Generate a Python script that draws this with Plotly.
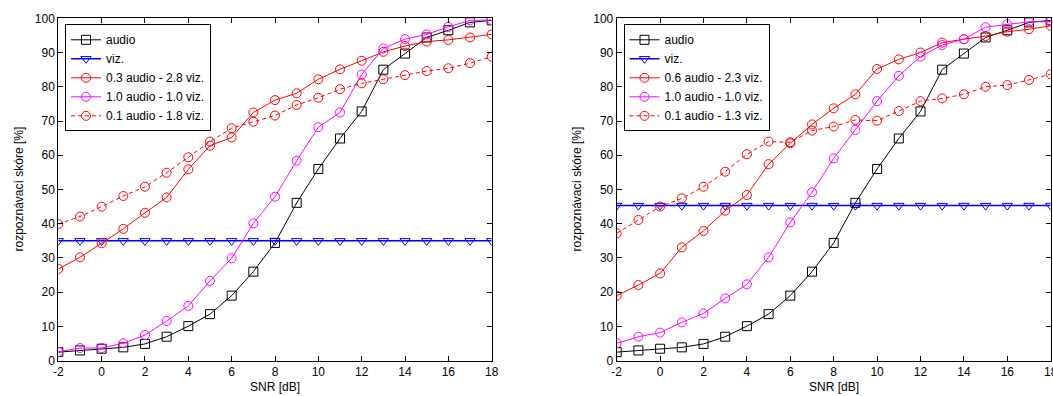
import plotly.graph_objects as go

snr = list(range(-2, 19))

audio = [2.5, 3.0, 3.5, 3.9, 4.9, 7.0, 10.1, 13.6, 19.0, 26.0, 34.4, 46.1, 56.0, 64.9, 72.8, 85.0, 89.7, 94.4, 96.5, 98.8, 99.4]

viz_left = [35.0] * 21
left_a = [26.8, 30.2, 34.3, 38.5, 43.2, 47.7, 55.9, 62.8, 65.2, 72.5, 76.1, 78.1, 82.2, 85.1, 87.6, 90.2, 91.9, 93.2, 93.7, 94.4, 95.3]
left_b = [2.6, 3.7, 3.7, 5.1, 7.5, 11.6, 16.0, 23.3, 29.9, 40.1, 47.9, 58.4, 68.2, 72.5, 83.6, 91.2, 93.9, 95.3, 97.5, 99.4, 99.5]
left_c = [39.9, 42.1, 45.0, 48.1, 50.8, 54.9, 59.4, 64.0, 67.9, 69.8, 71.6, 74.7, 76.8, 79.3, 81.0, 82.2, 83.4, 84.6, 85.4, 86.9, 88.8]

viz_right = [45.3] * 21
right_a = [19.0, 22.1, 25.5, 33.1, 37.9, 43.8, 48.4, 57.4, 63.5, 69.0, 73.7, 77.8, 85.2, 88.0, 90.0, 92.9, 93.9, 94.8, 96.1, 96.8, 97.8]
right_b = [5.1, 7.0, 8.2, 11.2, 13.8, 18.2, 22.3, 30.2, 40.4, 49.2, 59.1, 67.4, 75.8, 83.2, 88.8, 92.2, 93.9, 97.4, 98.3, 99.0, 99.0]
right_c = [37.2, 41.1, 45.0, 47.4, 50.8, 55.2, 60.3, 64.0, 63.8, 67.2, 68.4, 70.3, 70.1, 72.9, 75.8, 76.6, 77.8, 80.0, 80.5, 82.0, 83.7]

left_names = ["audio", "viz.", "0.3 audio - 2.8 viz.", "1.0 audio - 1.0 viz.", "0.1 audio - 1.8 viz."]
right_names = ["audio", "viz.", "0.6 audio - 2.3 viz.", "1.0 audio - 1.0 viz.", "0.1 audio - 1.3 viz."]

xticks = list(range(-2, 19, 2))
xtick_text = ["-2", "0", "2", "4", "6", "8", "10", "12", "14", "16", "18"]
yticks = list(range(0, 101, 10))

W, H = 1053, 396
FONT = "Liberation Sans, Arial, sans-serif"

fig = go.Figure()

styles = [
    dict(color="black", symbol="square-open", dash="solid", size=9, width=1),
    dict(color="blue", symbol="triangle-down-open", dash="solid", size=9, width=1.5),
    dict(color="red", symbol="circle-open", dash="solid", size=9, width=1),
    dict(color="#ff00ff", symbol="circle-open", dash="solid", size=9, width=1),
    dict(color="red", symbol="circle-open", dash="4px,3px", size=9, width=1),
]

def add_set(series, names, xa, ya, leg):
    for s, n, st in zip(series, names, styles):
        fig.add_trace(go.Scatter(
            x=snr, y=s, name=n, mode="lines+markers",
            xaxis=xa, yaxis=ya, legend=leg,
            line=dict(color=st["color"], width=st["width"], dash=st["dash"]),
            marker=dict(symbol=st["symbol"], size=st["size"], color=st["color"],
                        line=dict(width=1, color=st["color"])),
        ))

add_set([audio, viz_left, left_a, left_b, left_c], left_names, "x", "y", "legend")
add_set([audio, viz_right, right_a, right_b, right_c], right_names, "x2", "y2", "legend2")

def px_x(p):
    return p / W

def px_y(p):
    return 1 - p / H

ax_common = dict(
    showgrid=False, zeroline=False, showline=True, linecolor="black", linewidth=1,
    mirror="ticks", ticks="inside", ticklen=5, tickcolor="black", tickwidth=1,
    tickfont=dict(family=FONT, size=12, color="black"), automargin=False,
    ticklabeloverflow="allow",
)

fig.update_layout(
    width=W, height=H,
    margin=dict(l=0, r=0, t=0, b=0),
    paper_bgcolor="white", plot_bgcolor="white",
    font=dict(family=FONT, size=12, color="black"),
    xaxis=dict(domain=[px_x(58.3), px_x(491.7)], range=[-2, 18], tickvals=xticks, ticktext=xtick_text, anchor="y", **ax_common),
    yaxis=dict(domain=[px_y(360.7), px_y(18.3)], range=[0, 100], tickvals=yticks, anchor="x", **ax_common),
    xaxis2=dict(domain=[px_x(616.7), px_x(1050.7)], range=[-2, 18], tickvals=xticks, ticktext=xtick_text, anchor="y2", **ax_common),
    yaxis2=dict(domain=[px_y(360.7), px_y(18.3)], range=[0, 100], tickvals=yticks, anchor="x2", **ax_common),
    legend=dict(x=px_x(65), y=px_y(24.3), xanchor="left", yanchor="top",
                bgcolor="white", bordercolor="black", borderwidth=1,
                font=dict(family=FONT, size=12, color="black"), tracegroupgap=0),
    legend2=dict(x=px_x(623.5), y=px_y(24.3), xanchor="left", yanchor="top",
                 bgcolor="white", bordercolor="black", borderwidth=1,
                 font=dict(family=FONT, size=12, color="black"), tracegroupgap=0),
    showlegend=True,
)

annots = [
    dict(text="SNR [dB]", x=px_x(275), y=px_y(387)),
    dict(text="SNR [dB]", x=px_x(833.7), y=px_y(387)),
    dict(text="rozpoznávací skóre [%]", x=px_x(18), y=px_y(189.5), textangle=-90),
    dict(text="rozpoznávací skóre [%]", x=px_x(576), y=px_y(189.5), textangle=-90),
]
for a in annots:
    fig.add_annotation(xref="paper", yref="paper", showarrow=False,
                       xanchor="center", yanchor="middle",
                       font=dict(family=FONT, size=12, color="black"), **a)

fig.write_html("out.html")
